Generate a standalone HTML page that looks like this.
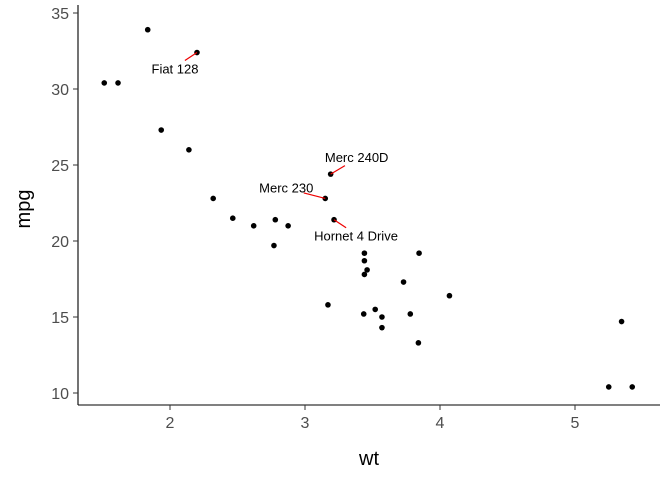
<!DOCTYPE html>
<html><head><meta charset="utf-8"><style>
body{margin:0;background:#fff;}
svg{display:block;font-family:"Liberation Sans",sans-serif;}
</style></head><body>
<svg id="c" width="672" height="480">
<g id="axes"></g><g id="pts"></g><g id="lbl"></g>
</svg>
<script>
const cars=["Mazda RX4","Mazda RX4 Wag","Datsun 710","Hornet 4 Drive","Hornet Sportabout","Valiant","Duster 360","Merc 240D","Merc 230","Merc 280","Merc 280C","Merc 450SE","Merc 450SL","Merc 450SLC","Cadillac Fleetwood","Lincoln Continental","Chrysler Imperial","Fiat 128","Honda Civic","Toyota Corolla","Toyota Corona","Dodge Challenger","AMC Javelin","Camaro Z28","Pontiac Firebird","Fiat X1-9","Porsche 914-2","Lotus Europa","Ford Pantera L","Ferrari Dino","Maserati Bora","Volvo 142E"];
const wt=[2.620,2.875,2.320,3.215,3.440,3.460,3.570,3.190,3.150,3.440,3.440,4.070,3.730,3.780,5.250,5.424,5.345,2.200,1.615,1.835,2.465,3.520,3.435,3.840,3.845,1.935,2.140,1.513,3.170,2.770,3.570,2.780];
const mpg=[21.0,21.0,22.8,21.4,18.7,18.1,14.3,24.4,22.8,19.2,17.8,16.4,17.3,15.2,10.4,10.4,14.7,32.4,30.4,33.9,21.5,15.5,15.2,13.3,19.2,27.3,26.0,30.4,15.8,19.7,15.0,21.4];
const xTicks=[2,3,4,5];
const yTicks=[10,15,20,25,30,35];
const labelled=["Fiat 128","Merc 240D","Merc 230","Hornet 4 Drive"];
const labelOffsets={"Fiat 128":[-22,16],"Merc 240D":[26,-17],"Merc 230":[-39,-11],"Hornet 4 Drive":[22,16]};
const X=w=>170+(w-2)*135, Y=m=>393-(m-10)*15.2;
const NS="http://www.w3.org/2000/svg";
function mk(t,a,p){const e=document.createElementNS(NS,t);for(const k in a)e.setAttribute(k,a[k]);p.appendChild(e);return e;}
const ax=document.getElementById('axes');
let e=mk('line',{x1:78,y1:405,x2:660,y2:405,stroke:'#000','stroke-width':1.1},ax);

e=mk('line',{x1:78,y1:13-8,x2:78,y2:405,stroke:'#000','stroke-width':1.1},ax);

xTicks.forEach(t=>{mk('line',{x1:X(t),x2:X(t),y1:405,y2:410,stroke:'#333'},ax);
 e=mk('text',{x:X(t),y:428,'text-anchor':'middle','font-size':16,fill:'#4d4d4d'},ax);e.textContent=t;
 });
yTicks.forEach(t=>{mk('line',{x1:73,x2:78,y1:Y(t),y2:Y(t),stroke:'#333'},ax);
 e=mk('text',{x:69,y:Y(t)+6,'text-anchor':'end','font-size':16,fill:'#4d4d4d'},ax);e.textContent=t;
 });
e=mk('text',{x:369,y:465,'text-anchor':'middle','font-size':20},ax);e.textContent='wt';

e=mk('text',{x:0,y:0,'text-anchor':'middle','font-size':20,transform:'translate(30,209) rotate(-90)'},ax);e.textContent='mpg';

const pg=document.getElementById('pts'),lg=document.getElementById('lbl');
wt.forEach((w,i)=>{
 const p=mk('circle',{cx:X(w),cy:Y(mpg[i]),r:2.8,fill:'#000'},pg);
 
 
 if(labelled.includes(cars[i])){
  const [dx,dy]=labelOffsets[cars[i]];const px=X(w),py=Y(mpg[i]);
  const tx=px+dx,ty=py+dy;
  const l=mk('line',{x1:px,y1:py,x2:px+dx*0.55,y2:py+dy*0.5,stroke:'#e00','stroke-width':1.2},lg);
  
  
  const t=mk('text',{x:tx,y:ty+5,'text-anchor':'middle','font-size':13,fill:'#000'},lg);t.textContent=cars[i];
  
  
 }
});
</script>
</body></html>
